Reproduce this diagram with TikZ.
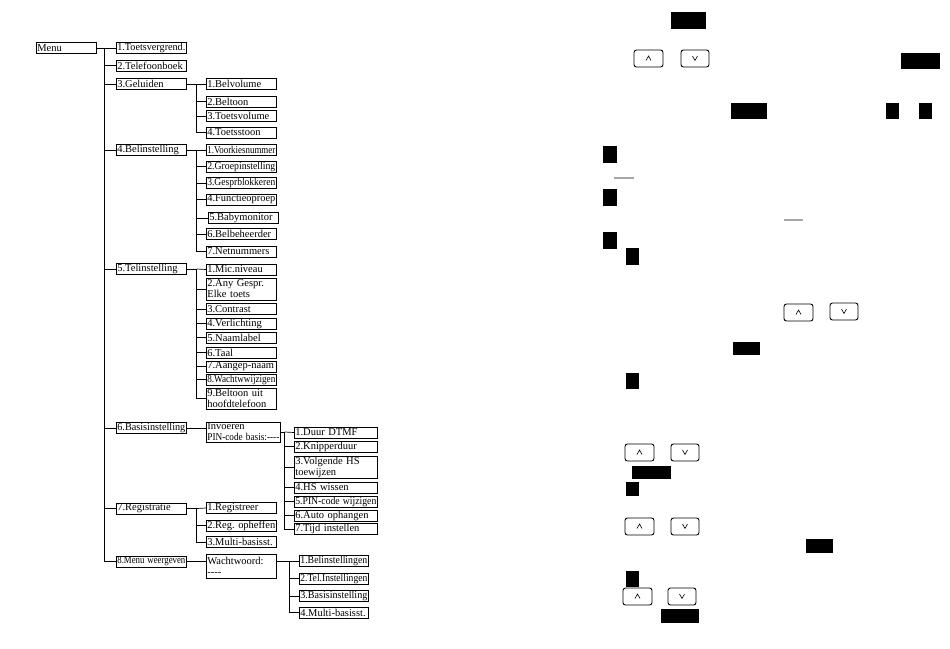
\documentclass[tikz,border=0pt]{standalone}
\usepackage{fontspec}
\setmainfont{Liberation Serif}
\usetikzlibrary{calc}
\frenchspacing

% tekst die te breed is horizontaal in het vak persen
\newsavebox\itembox
\newcommand\sq[1]{\sbox\itembox{#1}%
  \ifdim\wd\itembox>\linewidth\resizebox{\linewidth}{\height}{\usebox\itembox}%
  \else\usebox\itembox\fi}

\begin{document}
\begin{tikzpicture}[x=1pt, y=-1pt,
  item/.style={draw, line width=0.7pt, anchor=west, inner xsep=1pt, inner ysep=0.5pt,
    minimum height=11pt, text width=#1, align=left,
    font=\fontsize{10.5}{11}\selectfont},
  item/.default=68pt,
  link/.style={line width=0.7pt},
  blk/.style={fill=black},
  key/.style={draw, line width=0.9pt, rounded corners=2.5pt},
  tip/.style={line width=0.6pt}]

\useasboundingbox (0,0) rectangle (950,648);

% Hoofdmenu
\node[item=58pt] (menu) at (36,48) {Menu};
\coordinate (trunk) at (104,48);

% eerste niveau
\node[item] (toets) at (116,48) {\sq{1.Toetsvergrend.}};
\node[item] (tel) at (116,65.5) {\sq{2.Telefoonboek}};
\node[item] (gel) at (116,84) {\sq{3.Geluiden}};
\node[item] (bel) at (116,150) {\sq{4.Belinstelling}};
\node[item] (telin) at (116,269) {\sq{5.Telinstelling}};
\node[item] (basis) at (116,428) {\sq{6.Basisinstelling}};
\node[item] (reg) at (116,508.5) {\sq{7.Registratie}};
\node[item] (weerg) at (116,561.5) {\sq{8.Menu weergeven}};

\draw[link] (menu.east) -- (toets.west);
\foreach \n in {tel,gel,bel,telin,basis,reg,weerg}
  \draw[link] (trunk) |- (\n.west);

% 3.Geluiden
\node[item] (gel1) at (206,84) {\sq{1.Belvolume}};
\node[item] (gel2) at (206,101.5) {\sq{2.Beltoon}};
\node[item] (gel3) at (206,116) {\sq{3.Toetsvolume}};
\node[item] (gel4) at (206,132.5) {\sq{4.Toetsstoon}};
\draw[link] (gel.east) -- ++(10,0) coordinate (gelv);
\foreach \n in {gel2,gel3,gel4} \draw[link] (gelv) |- (\n.west);
\draw[link] (gelv) -- (gel1.west);

% 4.Belinstelling
\node[item] (bel1) at (206,150) {\sq{1.Voorkiesnummer}};
\node[item] (bel2) at (206,166.5) {\sq{2.Groepinstelling}};
\node[item] (bel3) at (206,183) {\sq{3.Gesprblokkeren}};
\node[item] (bel4) at (206,199.5) {\sq{4.Functieoproep}};
\node[item] (bel5) at (208,218) {\sq{5.Babymonitor}};
\node[item] (bel6) at (206,234) {\sq{6.Belbeheerder}};
\node[item] (bel7) at (206,251.5) {\sq{7.Netnummers}};
\draw[link] (bel.east) -- ++(10,0) coordinate (belv);
\foreach \n in {bel2,bel3,bel4,bel5,bel6,bel7} \draw[link] (belv) |- (\n.west);
\draw[link] (belv) -- (bel1.west);

% 5.Telinstelling
\node[item] (tin1) at (206,269.5) {\sq{1.Mic.niveau}};
\node[item, minimum height=22pt] (tin2) at (206,289) {\sq{2.Any Gespr.}\\\sq{Elke toets}};
\node[item] (tin3) at (206,309) {\sq{3.Contrast}};
\node[item] (tin4) at (206,323.5) {\sq{4.Verlichting}};
\node[item] (tin5) at (206,337.5) {\sq{5.Naamlabel}};
\node[item] (tin6) at (206,352.5) {\sq{6.Taal}};
\node[item] (tin7) at (206,366.5) {\sq{7.Aangep-naam}};
\node[item] (tin8) at (206,379.5) {\sq{8.Wachtwwijzigen}};
\node[item, minimum height=21pt] (tin9) at (206,398.5) {\sq{9.Beltoon uit}\\\sq{hoofdtelefoon}};
\draw[link] (telin.east) -- ++(10,0) coordinate (tinv);
\foreach \n in {tin2,tin3,tin4,tin5,tin6,tin7,tin8,tin9} \draw[link] (tinv) |- (\n.west);
\draw[link] (tinv) -- (tin1.west);

% 6.Basisinstelling
\node[item=72pt, minimum height=20pt] (inv) at (206,432) {\sq{Invoeren}\\\sq{PIN-code basis:-{}-{}-{}-}};
\draw[link] (basis.east) -- (basis.east -| inv.west);
\node[item=81pt] (bas1) at (294,432.5) {\sq{1.Duur DTMF}};
\node[item=81pt] (bas2) at (294,446.5) {\sq{2.Knipperduur}};
\node[item=81pt, minimum height=22pt] (bas3) at (294,467) {\sq{3.Volgende HS}\\\sq{toewijzen}};
\node[item=81pt] (bas4) at (294,487.5) {\sq{4.HS wissen}};
\node[item=81pt] (bas5) at (294,501.5) {\sq{5.PIN-code wijzigen}};
\node[item=81pt] (bas6) at (294,515.5) {\sq{6.Auto ophangen}};
\node[item=81pt] (bas7) at (294,529) {\sq{7.Tijd instellen}};
\draw[link] (inv.east) -- ++(4,0) coordinate (basv);
\foreach \n in {bas2,bas3,bas4,bas5,bas6,bas7} \draw[link] (basv) |- (\n.west);
\draw[link] (basv) -- (bas1.west);

% 7.Registratie
\node[item] (reg1) at (206,508) {\sq{1.Registreer}};
\node[item] (reg2) at (206,525.5) {\sq{2.Reg. opheffen}};
\node[item] (reg3) at (206,542) {\sq{3.Multi-basisst.}};
\draw[link] (reg.east) -- ++(10,0) coordinate (regv);
\foreach \n in {reg2,reg3} \draw[link] (regv) |- (\n.west);
\draw[link] (regv) -- (reg1.west);

% 8.Menu weergeven
\node[item, minimum height=24pt] (wacht) at (206,566) {\sq{Wachtwoord:}\\-{}-{}-{}-};
\draw[link] (weerg.east) -- (weerg.east -| wacht.west);
\node[item=67pt] (wg1) at (299,561) {\sq{1.Belinstellingen}};
\node[item=67pt] (wg2) at (299,578.5) {\sq{2.Tel.Instellingen}};
\node[item=67pt] (wg3) at (299,596) {\sq{3.Basisinstelling}};
\node[item=67pt] (wg4) at (299,612.5) {\sq{4.Multi-basisst.}};
\draw[link] (wacht.east |- weerg.east) -- ++(13,0) coordinate (wgv);
\foreach \n in {wg1,wg2,wg3,wg4} \draw[link] (wgv) |- (\n.west);

% rechterkolom: zwarte vlakken
\fill[blk] (671,12) rectangle (706,29);
\fill[blk] (901,53) rectangle (940,69);
\fill[blk] (731,103) rectangle (767,119);
\fill[blk] (886,103) rectangle (899,119);
\fill[blk] (919,103) rectangle (932,119);
\fill[blk] (603,146) rectangle (617,163);
\fill[blk] (603,189) rectangle (617,206);
\fill[blk] (603,232) rectangle (617,249);
\fill[blk] (626,248) rectangle (639,265);
\fill[blk] (733,342) rectangle (760,355);
\fill[blk] (626,373) rectangle (639,389);
\fill[blk] (632,466) rectangle (671,479);
\fill[blk] (626,482) rectangle (639,496);
\fill[blk] (806,539) rectangle (833,553);
\fill[blk] (626,571) rectangle (639,587);
\fill[blk] (661,609) rectangle (699,623);

% grijze streepjes
\draw[gray!70, line width=1.2pt] (614,178) -- (634,178);
\draw[gray!70, line width=1.2pt] (784,220) -- (803,220);

% pijltoetsen omhoog / omlaag
\foreach \x/\y in {634/50, 784/304, 625/444, 625/518, 623/588} {
  \draw[key] (\x,\y) rectangle ++(29,17);
  \draw[tip] (\x+12,\y+10.5) -- ++(2.5,-4.5) -- ++(2.5,4.5);
}
\foreach \x/\y in {681/50, 830/303, 671/444, 671/518, 668/588} {
  \draw[key] (\x,\y) rectangle ++(28,17);
  \draw[tip] (\x+11.5,\y+6) -- ++(2.5,4.5) -- ++(2.5,-4.5);
}

\end{tikzpicture}
\end{document}
